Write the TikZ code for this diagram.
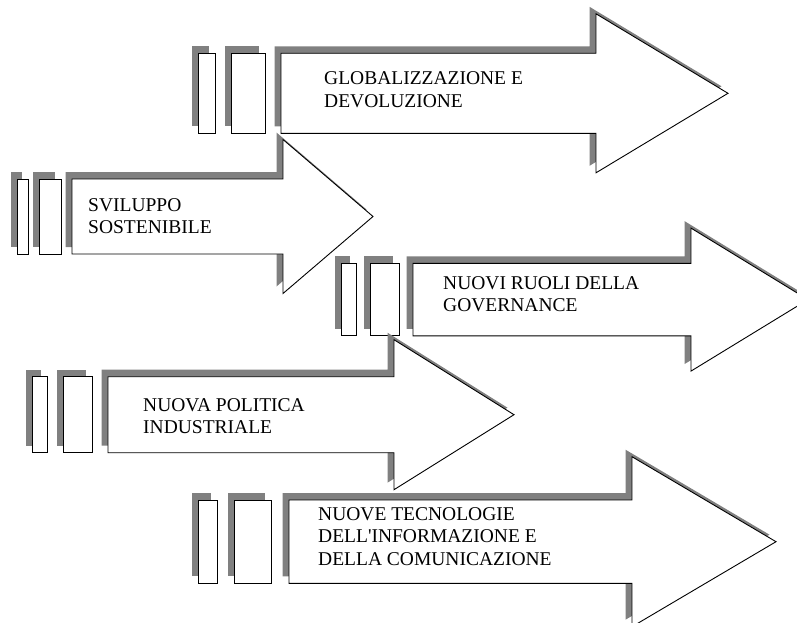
\documentclass[tikz,border=0pt]{standalone}
\usepackage{fontspec}
\setmainfont{Liberation Serif}
\definecolor{shadowgray}{HTML}{808080}

% Parameters of one striped arrow (all in px-sized units)
\pgfkeys{/stripe/.cd,
  al/.store in=\saAl, ar/.store in=\saAr,   % first small bar
  bl/.store in=\saBl, br/.store in=\saBr,   % second small bar
  l/.store in=\saL,   r/.store in=\saR,     % shaft left / head base
  tip/.store in=\saTip, y/.store in=\saY,   % tip x / centre line
  bh/.store in=\saBh, hh/.store in=\saHh}   % half heights: shaft / head

\newcommand{\stripedarrow}[1]{%
  \pgfkeys{/stripe/.cd,#1}%
  % drop shadow, offset up and to the left
  \begin{scope}[shift={(-6.5,-7)}]
    \fill[shadowgray] (\saAl,\saY-\saBh) rectangle (\saAr,\saY+\saBh);
    \fill[shadowgray] (\saBl,\saY-\saBh) rectangle (\saBr,\saY+\saBh);
    \fill[shadowgray] (\saL,\saY-\saBh) -- (\saR,\saY-\saBh) -- (\saR,\saY-\saHh)
      -- (\saTip,\saY) -- (\saR,\saY+\saHh) -- (\saR,\saY+\saBh) -- (\saL,\saY+\saBh) -- cycle;
  \end{scope}
  % white bars and arrow with black outline
  \draw[outline] (\saAl,\saY-\saBh) rectangle (\saAr,\saY+\saBh);
  \draw[outline] (\saBl,\saY-\saBh) rectangle (\saBr,\saY+\saBh);
  \draw[outline] (\saL,\saY-\saBh) -- (\saR,\saY-\saBh) -- (\saR,\saY-\saHh)
    -- (\saTip,\saY) -- (\saR,\saY+\saHh) -- (\saR,\saY+\saBh) -- (\saL,\saY+\saBh) -- cycle;
}

\begin{document}
\begin{tikzpicture}[x=1pt,y=-1pt,
  outline/.style={draw=black,line width=0.9pt,fill=white,line join=miter},
  label/.style={anchor=north west,inner sep=0pt,align=left,
    font=\fontsize{19.5}{22.5}\selectfont}]
  \useasboundingbox (0,0) rectangle (797,623);
  \clip (0,0) rectangle (797,623);

  % GLOBALIZZAZIONE E DEVOLUZIONE
  \stripedarrow{al=198,ar=215,bl=231,br=265,l=281,r=596,tip=728,y=93.3,bh=40,hh=79.5}
  \node[label] (glob) at (324,71.5) {GLOBALIZZAZIONE E\\DEVOLUZIONE};

  % SVILUPPO SOSTENIBILE
  \stripedarrow{al=17,ar=28,bl=39,br=61,l=72,r=283,tip=373,y=216.5,bh=37.5,hh=77}
  \node[label] (svil) at (88,198.2) {SVILUPPO\\SOSTENIBILE};

  % NUOVI RUOLI DELLA GOVERNANCE
  \stripedarrow{al=341,ar=356,bl=370,br=399,l=413,r=691,tip=808,y=299.6,bh=36.3,hh=71.5}
  \node[label] (gov) at (443,276.2) {NUOVI RUOLI DELLA\\GOVERNANCE};

  % NUOVA POLITICA INDUSTRIALE
  \stripedarrow{al=32,ar=47,bl=63,br=92,l=108,r=394,tip=514,y=414.7,bh=38,hh=75}
  \node[label] (pol) at (143,398.2) {NUOVA POLITICA\\INDUSTRIALE};

  % NUOVE TECNOLOGIE DELL'INFORMAZIONE E DELLA COMUNICAZIONE
  \stripedarrow{al=198,ar=217,bl=234,br=271,l=289,r=632,tip=776,y=541.7,bh=41.7,hh=85}
  \node[label] (tec) at (318,507.2) {NUOVE TECNOLOGIE\\DELL\textquotesingle INFORMAZIONE E\\DELLA COMUNICAZIONE};
\end{tikzpicture}
\end{document}
